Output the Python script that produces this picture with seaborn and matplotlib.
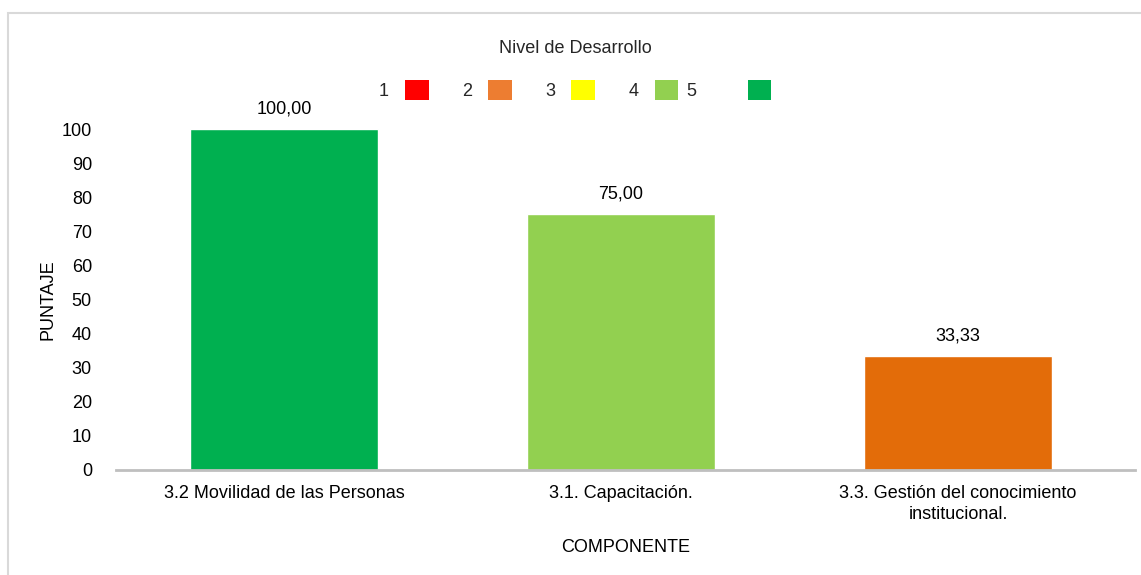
import matplotlib
matplotlib.use("Agg")
import matplotlib.pyplot as plt
import seaborn as sns
import pandas as pd
from matplotlib.patches import Patch, Rectangle

categorias = ["3.2 Movilidad de las Personas", "3.1. Capacitación.",
              "3.3. Gestión del conocimiento\ninstitucional."]
puntajes = [100.00, 75.00, 33.33]
colores_barras = ["#00B050", "#92D050", "#E36C09"]
niveles = ["1", "2", "3", "4", "5"]
colores_niveles = ["#FF0000", "#ED7D31", "#FFFF00", "#92D050", "#00B050"]
yticks = list(range(0, 101, 10))

sns.set_theme(style="white")
plt.rcParams["font.family"] = ["Liberation Sans", "DejaVu Sans"]

FS = 13
df = pd.DataFrame({"componente": categorias, "puntaje": puntajes})

fig = plt.figure(figsize=(11.41, 5.75), dpi=100)
W, H = 1141, 575
ax_left, ax_right = 115.5, 1135
ax = fig.add_axes([ax_left / W, 1 - 470 / H, (ax_right - ax_left) / W, (470 - 129) / H])

sns.barplot(data=df, x="componente", y="puntaje", hue="componente",
            palette=colores_barras, width=0.558, legend=False, ax=ax,
            saturation=1)

ax.set_ylim(0, 100)
ax.set_xlim(-0.5, 2.525)
ax.set_yticks(yticks)
ax.tick_params(axis="y", labelsize=FS, colors="#000000", length=0, pad=17)
ax.tick_params(axis="x", labelsize=FS, colors="#000000", length=0, pad=11)
for lbl in ax.get_xticklabels():
    lbl.set_multialignment("center")
    lbl.set_linespacing(1.32)

for s in ["top", "right", "left"]:
    ax.spines[s].set_visible(False)
ax.spines["bottom"].set_color("#BFBFBF")
ax.spines["bottom"].set_linewidth(2)

for i, v in enumerate(puntajes):
    ax.annotate(f"{v:.2f}".replace(".", ","), (i, v), xytext=(0, 8.5),
                textcoords="offset points", ha="center", va="bottom",
                fontsize=FS, color="#000000", annotation_clip=False)

ax.set_xlabel("COMPONENTE", fontsize=FS, color="#000000", labelpad=11.5)
ax.set_ylabel("PUNTAJE", fontsize=FS, color="#000000")
ax.yaxis.set_label_coords((57 - ax_left) / (ax_right - ax_left), 0.5)

handles = [Patch(facecolor=c, edgecolor="none") for c in colores_niveles]
labels = niveles[:-1] + ["5  "]
leg = fig.legend(handles, labels, title="Nivel de Desarrollo", ncol=5,
                 loc="center", bbox_to_anchor=(575 / W, 1 - 70 / H),
                 frameon=False, markerfirst=False, fontsize=FS,
                 title_fontsize=FS, handlelength=1.3, handleheight=1.25,
                 columnspacing=1.85, handletextpad=0.9)
leg._legend_box.sep = 17
leg.get_texts()[4].set_x(-24)

fig.patches.append(Rectangle((8 / W, -0.1), 1.2, 1 - 13 / H + 0.1,
                             transform=fig.transFigure, fill=False,
                             edgecolor="#D9D9D9", linewidth=1.5, zorder=-1))

fig.savefig("out.png", dpi=100)
